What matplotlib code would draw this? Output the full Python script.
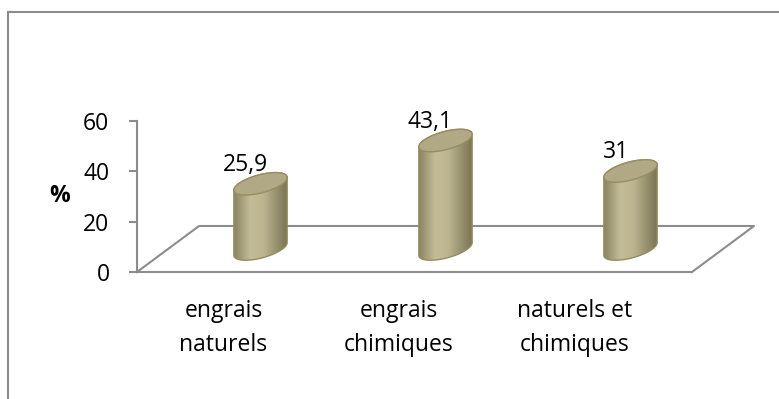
import numpy as np
import matplotlib.pyplot as plt
import matplotlib.transforms as mtransforms
from matplotlib.patches import Polygon
from matplotlib.lines import Line2D
from matplotlib.colors import LinearSegmentedColormap

# Données
categories = ['engrais\nnaturels', 'engrais\nchimiques', 'naturels et\nchimiques']
valeurs = [25.9, 43.1, 31]
etiquettes = ['25,9', '43,1', '31']
graduations = [0, 20, 40, 60]

plt.rcParams['font.family'] = ['Open Sans', 'DejaVu Sans']
GRIS = '#8c8c8c'
TAILLE = 16.5

fig = plt.figure(figsize=(7.79, 3.99), dpi=100)
fig.patch.set_facecolor('white')
ax = fig.add_axes([137/779, 127/399, 555/779, 151/399])
ax.set_xlim(-0.5, 2.5)
ax.set_ylim(0, 60)

# axes
for cote in ['top', 'right']:
    ax.spines[cote].set_visible(False)
for cote in ['left', 'bottom']:
    ax.spines[cote].set_color(GRIS)
    ax.spines[cote].set_linewidth(1.5)
ax.set_xticks([])
ax.set_yticks(graduations)
ax.tick_params(axis='y', length=5.8, width=1.5, color=GRIS, pad=14, labelsize=TAILLE)
ax.set_ylabel('%', rotation=0, fontsize=TAILLE, fontweight='bold', ha='center', va='center')
ax.yaxis.set_label_coords(-0.139, 0.5)

# socle en perspective (profondeur en pixels)
prof_x, prof_y = 62, 46
avant = ax.transData.transform([[-0.5, 0], [2.5, 0]])
arriere = avant + [prof_x, prof_y]
pts = ax.transData.inverted().transform(np.vstack([avant[0], arriere[0], arriere[1], avant[1]]))
ax.plot(pts[:, 0], pts[:, 1], color=GRIS, lw=1.5, clip_on=False, zorder=1)

# cylindres
degrade = LinearSegmentedColormap.from_list(
    'olive', [(0, '#8a8463'), (0.3, '#c4bc96'), (0.55, '#bcb48f'), (1, '#777252')])
a, b, theta = 27.5, 9.0, np.radians(15)


def ellipse(cx, cy, t):
    x = cx + a * np.cos(t) * np.cos(theta) - b * np.sin(t) * np.sin(theta)
    y = cy + a * np.cos(t) * np.sin(theta) + b * np.sin(t) * np.cos(theta)
    return np.column_stack([x, y])


t0 = np.arctan2(-b * np.sin(theta), a * np.cos(theta))
inv = ax.transData.inverted()
for i, v in enumerate(valeurs):
    bx, by = ax.transData.transform((i, 0)) + [prof_x / 2, prof_y / 2]
    ty = ax.transData.transform((i, v))[1] + prof_y / 2
    bas = ellipse(bx, by, np.linspace(t0, t0 - np.pi, 60))
    haut = ellipse(bx, ty, np.linspace(t0 + np.pi, t0, 60))
    corps = Polygon(inv.transform(np.vstack([bas, haut])), closed=True,
                    fc='none', ec='#958d5f', lw=1, zorder=4)
    ax.add_patch(corps)
    x0, y0 = inv.transform((bas[:, 0].min(), bas[:, 1].min()))
    x1, y1 = inv.transform((bas[:, 0].max(), haut[:, 1].max()))
    img = ax.imshow(np.linspace(0, 1, 256)[None, :], cmap=degrade, aspect='auto',
                    extent=(x0, x1, y0, y1), interpolation='bilinear', zorder=3)
    img.set_clip_path(corps)
    dessus = ellipse(bx, ty, np.linspace(0, 2 * np.pi, 100))
    ax.add_patch(Polygon(inv.transform(dessus), closed=True,
                         fc='#b1a985', ec='#968e60', lw=1, zorder=5))

ax.set_xlim(-0.5, 2.5)
ax.set_ylim(0, 60)

# étiquettes de valeurs
etiq = mtransforms.offset_copy(ax.transData, fig=fig, x=16, y=42, units='dots')
for i, (v, lab) in enumerate(zip(valeurs, etiquettes)):
    ax.text(i, v, lab, transform=etiq, ha='center', va='center', fontsize=TAILLE)

# catégories
for i, cat in enumerate(categories):
    tr = mtransforms.offset_copy(ax.transData, fig=fig, x=-6 - 9.5 * i, y=-56, units='dots')
    ax.text(i, 0, cat, transform=tr, ha='center', va='center',
            fontsize=TAILLE, linespacing=1.6)

# cadre
fig.add_artist(Line2D([8/779, 8/779], [0, 1 - 12/399], transform=fig.transFigure,
                      color=GRIS, lw=1.5))
fig.add_artist(Line2D([8/779, 1], [1 - 12/399, 1 - 12/399], transform=fig.transFigure,
                      color=GRIS, lw=1.5))

fig.savefig('out.png', dpi=100)
